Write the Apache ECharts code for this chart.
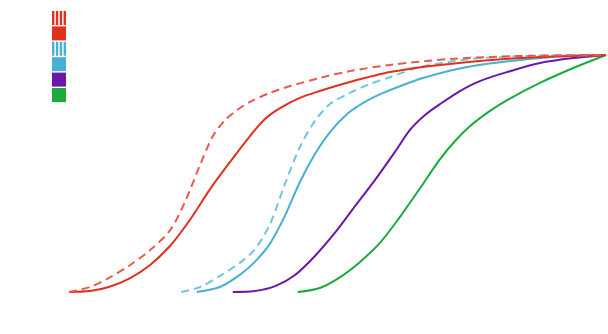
<!DOCTYPE html>
<html>
<head>
<meta charset="utf-8">
<script src="https://cdn.jsdelivr.net/npm/echarts@6/dist/echarts.min.js"></script>
<style>html,body{margin:0;padding:0;background:#fff}#c{width:608px;height:334px}</style>
</head>
<body>
<div id="c"></div>
<script>
const seriesNames = ['Red (dashed)', 'Red', 'Blue (dashed)', 'Blue', 'Purple', 'Green'];
const redDashed = [[0,0],[3.9,2.1],[7.4,5.9],[11.4,11.4],[15.1,17.7],[18.8,26.0],[21.6,38.0],[24.4,53.6],[26.8,65.8],[29.1,72.6],[31.3,76.8],[33.7,80.2],[37.4,84.0],[41.2,86.9],[46.7,90.3],[52.3,93.2],[59.8,95.8],[70.9,98.3],[84.0,99.6],[100,100]];
const redSolid = [[0,0],[3.9,0.4],[7.4,2.1],[11.4,5.9],[15.1,11.4],[18.8,19.4],[22.5,30.4],[26.3,43.5],[30.0,54.9],[33.7,65.8],[36.5,73.0],[39.3,77.6],[43.0,81.9],[46.7,84.8],[52.3,88.6],[59.8,92.8],[69.1,95.8],[84.0,98.7],[100,100]];
const blueDashed = [[20.9,0],[24.4,2.1],[28.1,6.8],[31.8,12.3],[34.6,18.0],[37.4,28.5],[40.2,45.5],[43.0,61.2],[45.8,72.2],[48.6,79.3],[52.3,84.0],[56.1,87.8],[59.8,90.7],[65.4,94.9],[74.7,98.3],[85.8,99.6],[100,100]];
const blueSolid = [[23.8,0],[28.1,2.1],[31.8,7.2],[34.6,12.7],[37.4,20.3],[40.2,32.1],[43.0,46.4],[45.8,58.2],[48.6,67.5],[51.8,75.1],[55.1,80.2],[58.5,84.0],[65.9,90.3],[75.2,95.4],[90.1,99.2],[100,100]];
const purple = [[30.5,0],[34.6,0.4],[38.4,2.5],[42.1,7.2],[45.8,15.2],[49.5,24.9],[53.3,36.3],[57.0,47.3],[60.7,59.1],[63.5,68.4],[66.3,74.7],[69.1,79.3],[72.8,84.8],[76.5,89.0],[81.6,92.8],[87.7,96.6],[93.9,98.7],[100,100]];
const green = [[42.6,0],[46.7,1.7],[50.5,6.3],[54.2,12.7],[57.9,20.7],[61.6,31.6],[65.4,43.9],[69.1,56.1],[71.9,63.7],[74.7,70.0],[78.4,76.4],[81.6,81.0],[87.7,88.2],[93.9,94.5],[100,100]];

const colors = ['#e8594b', '#e0301e', '#72c4e0', '#48afd5', '#6b17a8', '#1aab3b'];
const dashedFlags = [true, false, true, false, false, false];
const allData = [redDashed, redSolid, blueDashed, blueSolid, purple, green];
const stripeIcon = 'path://M0,0h2.4v14h-2.4zM3.85,0h2.4v14h-2.4zM7.75,0h2.4v14h-2.4zM11.6,0h2.4v14h-2.4z';

const chart = echarts.init(document.getElementById('c'), null, {renderer: 'canvas'});
chart.setOption({
  animation: false,
  backgroundColor: '#fff',
  legend: {
    orient: 'vertical',
    left: 52,
    top: 11,
    padding: 0,
    itemWidth: 14,
    itemHeight: 14,
    itemGap: 1.4,
    formatter: () => '',
    data: seriesNames.map((n, i) => ({name: n, icon: dashedFlags[i] ? stripeIcon : 'rect', itemStyle: {color: dashedFlags[i] ? colors[i + 1] : colors[i]}}))
  },
  grid: {left: 69, right: 2, top: 55, bottom: 42, containLabel: false},
  xAxis: {type: 'value', min: 0, max: 100, show: false},
  yAxis: {type: 'value', min: 0, max: 100, show: false},
  series: seriesNames.map((n, i) => ({
    name: n,
    type: 'line',
    data: allData[i],
    smooth: 0.3,
    showSymbol: false,
    symbol: 'none',
    color: colors[i],
    lineStyle: {width: 2, color: colors[i], type: dashedFlags[i] ? [8, 5] : 'solid'},
    z: 10 - i
  }))
});
</script>
</body>
</html>
